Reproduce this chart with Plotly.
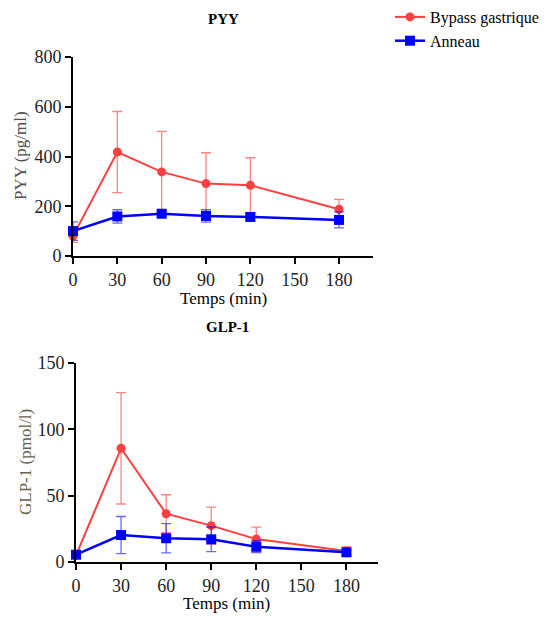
import plotly.graph_objects as go

time_min = [0, 30, 60, 90, 120, 180]

# PYY (pg/ml)
pyy_bypass = [80, 418, 338, 291, 284, 188]
pyy_bypass_err = [25, 163, 163, 124, 111, 40]
pyy_anneau = [100, 159, 170, 161, 157, 145]
pyy_anneau_err = [37, 27, 10, 25, 15, 32]

# GLP-1 (pmol/l)
glp_bypass = [5, 85.7, 36.4, 27.4, 17.3, 8.3]
glp_bypass_err = [1.5, 42, 14.3, 14, 9, 3]
glp_anneau = [5.5, 20.3, 17.9, 17.1, 11.5, 7.3]
glp_anneau_err = [1, 14, 11, 9.3, 4.5, 2]

x_ticks = [0, 30, 60, 90, 120, 150, 180]
pyy_ticks = [0, 200, 400, 600, 800]
glp_ticks = [0, 50, 100, 150]

RED = "rgb(255,64,64)"
RED_ERR = "rgba(255,64,64,0.65)"
BLUE = "rgb(0,0,255)"
BLUE_ERR = "rgba(0,0,255,0.6)"
FONT = "Liberation Serif, Times New Roman, serif"

# page body has a default 8px margin: compensate so the figure lands at the window pixels
OFF = 8
W, H = 553 - OFF, 617 - OFF

def px(x):
    return (x - OFF) / W

def py(y):
    return 1 - (y - OFF) / H

fig = go.Figure()

def add_pair(xa, ya, red_y, red_e, blue_y, blue_e, show):
    fig.add_trace(go.Scatter(
        x=time_min, y=red_y, xaxis=xa, yaxis=ya, mode="lines+markers",
        name="Bypass gastrique", legendgroup="b", showlegend=show,
        line=dict(color=RED, width=2),
        marker=dict(color=RED, size=9, symbol="circle"),
        error_y=dict(type="data", array=red_e, visible=True, color=RED_ERR,
                     thickness=1.3, width=5),
        cliponaxis=False))
    fig.add_trace(go.Scatter(
        x=time_min, y=blue_y, xaxis=xa, yaxis=ya, mode="lines+markers",
        name="Anneau", legendgroup="a", showlegend=show,
        line=dict(color=BLUE, width=2.5),
        marker=dict(color=BLUE, size=10, symbol="square"),
        error_y=dict(type="data", array=blue_e, visible=True, color=BLUE_ERR,
                     thickness=1.3, width=5),
        cliponaxis=False))

add_pair("x", "y", pyy_bypass, pyy_bypass_err, pyy_anneau, pyy_anneau_err, True)
add_pair("x2", "y2", glp_bypass, glp_bypass_err, glp_anneau, glp_anneau_err, False)

axis_common = dict(showline=True, linecolor="black", linewidth=2, ticks="outside",
                   ticklen=6, tickwidth=1.5, tickcolor="black", showgrid=False,
                   zeroline=False, automargin=False,
                   tickfont=dict(family=FONT, size=18, color="#222"))

fig.update_layout(
    width=W, height=H, margin=dict(l=0, r=0, t=0, b=0, pad=0, autoexpand=False),
    paper_bgcolor="white", plot_bgcolor="white",
    font=dict(family=FONT, size=16, color="black"),
    xaxis=dict(domain=[px(73), px(373)], range=[0, 203], tickvals=x_ticks,
               anchor="y", **axis_common),
    yaxis=dict(domain=[py(256), py(57)], range=[0, 800], tickvals=pyy_ticks,
               anchor="x", **axis_common),
    xaxis2=dict(domain=[px(76), px(378)], range=[0, 201], tickvals=x_ticks,
                anchor="y2", **axis_common),
    yaxis2=dict(domain=[py(562), py(363)], range=[0, 150], tickvals=glp_ticks,
                anchor="x2", **axis_common),
    legend=dict(x=px(390), y=py(0), xanchor="left", yanchor="top",
                font=dict(family=FONT, size=16, color="black"),
                bgcolor="rgba(0,0,0,0)", tracegroupgap=0),
    showlegend=True,
)

def ann(text, x, y, size=16, bold=False, color="black", angle=0):
    fig.add_annotation(text=f"<b>{text}</b>" if bold else text,
                       x=px(x), y=py(y), xref="paper", yref="paper",
                       showarrow=False, textangle=angle,
                       font=dict(family=FONT, size=size, color=color),
                       xanchor="center", yanchor="middle")

ann("PYY", 223, 19, size=15, bold=True)
ann("GLP-1", 227, 327, size=15, bold=True)
ann("Temps (min)", 223, 298, size=17)
ann("Temps (min)", 226, 603, size=17)
ann("PYY (pg/ml)", 20, 156, size=17, color="#505050", angle=-90)
ann("GLP-1 (pmol/l)", 25, 462, size=17, color="#6a604e", angle=-90)

fig.write_html("out.html")
